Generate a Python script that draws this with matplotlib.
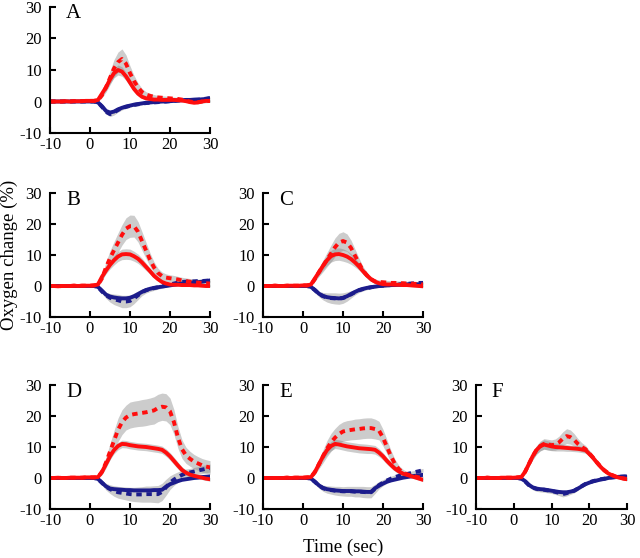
import numpy as np
import matplotlib.pyplot as plt

plt.rcParams['font.family'] = ['Liberation Serif', 'DejaVu Serif']
plt.rcParams['axes.unicode_minus'] = False

# time axis, 1 s steps from -10 to 30 s
t = np.arange(-10, 31)

# ---- panel A ----
a_red = [0, 0, 0, 0, 0.1, 0, 0.1, 0.1, 0.1, 0.2,
         0.2, 0.2, 0.5, 2.5, 4.5, 7, 9, 10, 9.5, 8,
         6, 4, 2.5, 1.5, 1, 0.8, 0.6, 0.6, 0.5, 0.5,
         0.5, 0.5, 0.4, 0.3, 0.1, -0.2, -0.4, -0.3, 0, 0.2, 0.2]
a_red_dot = [0, 0, 0, 0, 0.1, 0, 0.1, 0.1, 0.1, 0.2,
             0.2, 0.2, 0.4, 2, 4.5, 7.5, 10.5, 12.5, 13.5, 12,
             9, 6.5, 4.5, 3, 2.2, 1.8, 1.5, 1.3, 1.2, 1.1,
             1, 0.9, 0.8, 0.6, 0.3, 0, -0.2, -0.2, 0, 0.1, 0.2]
a_blue = [0, 0, 0, 0, 0, 0, 0, 0, 0, 0,
          0, 0, -0.3, -1.5, -3, -3.5, -3.2, -2.5, -2, -1.6,
          -1.3, -1, -0.8, -0.6, -0.4, -0.3, -0.2, -0.1, 0, 0,
          0.1, 0.2, 0.3, 0.4, 0.5, 0.5, 0.6, 0.6, 0.7, 0.8, 1.0]
a_blue_dot = [0, 0, 0, 0, 0, 0, 0, 0, 0, 0,
              0, 0, -0.3, -1.7, -3.3, -4, -3.5, -2.7, -2.1, -1.7,
              -1.4, -1.1, -0.9, -0.7, -0.5, -0.4, -0.3, -0.2, -0.1, 0,
              0.1, 0.2, 0.3, 0.4, 0.4, 0.5, 0.5, 0.6, 0.7, 0.9, 1.1]
a_red_sd = [0.2, 0.2, 0.2, 0.2, 0.2, 0.2, 0.2, 0.2, 0.2, 0.2,
            0.2, 0.2, 0.3, 0.6, 1, 1.3, 1.5, 1.6, 1.5, 1.3,
            1.1, 0.9, 0.7, 0.5, 0.4, 0.3, 0.3, 0.3, 0.3, 0.3,
            0.3, 0.3, 0.3, 0.3, 0.3, 0.3, 0.3, 0.3, 0.3, 0.3, 0.3]
a_red_dot_sd = [0.2, 0.2, 0.2, 0.2, 0.2, 0.2, 0.2, 0.2, 0.2, 0.2,
                0.2, 0.2, 0.3, 0.8, 1.5, 2.2, 2.8, 3.2, 3.2, 2.8,
                2.3, 1.8, 1.4, 1.1, 0.9, 0.8, 0.7, 0.6, 0.6, 0.6,
                0.5, 0.5, 0.5, 0.5, 0.5, 0.5, 0.5, 0.5, 0.5, 0.5, 0.5]
a_blue_sd = [0.2, 0.2, 0.2, 0.2, 0.2, 0.2, 0.2, 0.2, 0.2, 0.2,
             0.2, 0.2, 0.2, 0.4, 0.6, 0.8, 0.8, 0.7, 0.6, 0.5,
             0.4, 0.3, 0.3, 0.3, 0.3, 0.3, 0.3, 0.3, 0.3, 0.3,
             0.3, 0.3, 0.3, 0.3, 0.3, 0.3, 0.3, 0.3, 0.3, 0.3, 0.3]

# ---- panel B ----
b_red = [0, 0, -0.1, 0, 0, 0, 0.1, 0, 0.1, 0.1,
         0.1, 0.2, 0.5, 3, 5, 6.8, 8.3, 9.5, 10.2, 10.3,
         10.2, 9.6, 8.8, 7.6, 6.2, 4.8, 3.3, 2.2, 1.3, 0.8,
         0.5, 0.4, 0.4, 0.3, 0.3, 0.3, 0.2, 0.2, 0.1, 0, 0]
b_red_dot = [0, 0, -0.1, 0, 0, 0, 0.1, 0, 0.1, 0.1,
             0.1, 0.2, 0.4, 2.5, 6, 9, 11.5, 14, 16.5, 18.5,
             19.3, 19.3, 17.5, 14.5, 11.5, 8.5, 6, 4.2, 3.2, 2.7,
             2.5, 2.3, 2.1, 1.8, 1.6, 1.4, 1.2, 1.1, 1.0, 0.9, 0.8]
b_blue = [0, 0, 0, 0, 0, 0, 0, 0, 0, 0,
          0, 0, -0.3, -1.5, -2.8, -3.4, -3.7, -3.9, -4, -4,
          -3.8, -3.3, -2.6, -1.9, -1.3, -0.9, -0.6, -0.4, -0.2, 0,
          0.2, 0.4, 0.6, 0.8, 0.9, 1.0, 1.1, 1.2, 1.4, 1.6, 1.8]
b_blue_dot = [0, 0, 0, 0, 0, 0, 0, 0, 0, 0,
              0, 0, -0.3, -1.8, -3, -3.8, -4.3, -4.6, -5, -5,
              -4.8, -4, -3, -2, -1.4, -1, -0.7, -0.4, -0.1, 0.2,
              0.5, 0.8, 1.1, 1.3, 1.4, 1.5, 1.5, 1.6, 1.6, 1.7, 1.8]
b_red_sd = [0.2, 0.2, 0.2, 0.2, 0.2, 0.2, 0.2, 0.2, 0.2, 0.2,
            0.2, 0.2, 0.3, 0.8, 1.1, 1.3, 1.5, 1.6, 1.7, 1.7,
            1.7, 1.6, 1.5, 1.4, 1.2, 1, 0.8, 0.6, 0.5, 0.5,
            0.4, 0.4, 0.4, 0.4, 0.4, 0.4, 0.4, 0.4, 0.4, 0.4, 0.4]
b_red_dot_sd = [0.2, 0.2, 0.2, 0.2, 0.2, 0.2, 0.2, 0.2, 0.2, 0.2,
                0.2, 0.2, 0.3, 1, 1.8, 2.4, 2.8, 3.1, 3.3, 3.5,
                3.6, 3.5, 3.3, 3, 2.6, 2.2, 1.8, 1.5, 1.3, 1.2,
                1.1, 1.1, 1, 1, 1, 1, 1, 1, 1, 1, 1]
b_blue_sd = [0.2, 0.2, 0.2, 0.2, 0.2, 0.2, 0.2, 0.2, 0.2, 0.2,
             0.2, 0.2, 0.3, 0.6, 1, 1.4, 1.7, 1.9, 2, 2,
             1.9, 1.7, 1.4, 1.1, 0.9, 0.8, 0.7, 0.6, 0.6, 0.6,
             0.6, 0.6, 0.6, 0.6, 0.6, 0.6, 0.6, 0.6, 0.6, 0.6, 0.6]

# ---- panel C ----
c_red = [0, 0, 0, 0.1, 0, 0, 0.1, 0.1, 0.1, 0.1,
         0.2, 0.2, 0.5, 2.5, 4.5, 6.5, 8.3, 9.6, 10.2, 10.3,
         10, 9.5, 8.7, 7.6, 6.3, 4.8, 3.4, 2.2, 1.4, 0.9,
         0.6, 0.5, 0.5, 0.4, 0.4, 0.3, 0.3, 0.2, 0.1, 0, -0.1]
c_red_dot = [0, 0, 0, 0.1, 0, 0, 0.1, 0.1, 0.1, 0.1,
             0.2, 0.2, 0.4, 2.3, 4.5, 6.5, 8.5, 10.5, 12.5, 14,
             14.5, 14, 12.3, 9.8, 7.3, 5, 3.4, 2.2, 1.5, 1.3,
             1.2, 1.1, 1.0, 1.0, 0.9, 0.9, 0.8, 0.8, 0.7, 0.6, 0.5]
c_blue = [0, 0, 0, 0, 0, 0, 0, 0, 0, 0,
          0, 0, -0.3, -1.3, -2.5, -3.2, -3.6, -3.8, -3.9, -4,
          -3.8, -3.3, -2.6, -1.9, -1.3, -0.9, -0.6, -0.4, -0.2, 0,
          0.1, 0.2, 0.3, 0.3, 0.4, 0.5, 0.5, 0.6, 0.6, 0.5, 0.5]
c_blue_dot = [0, 0, 0, 0, 0, 0, 0, 0, 0, 0,
              0, 0, -0.3, -1.4, -2.6, -3.3, -3.7, -3.9, -4, -4.1,
              -3.9, -3.4, -2.7, -2, -1.4, -1, -0.7, -0.4, -0.2, 0,
              0.1, 0.2, 0.3, 0.4, 0.5, 0.6, 0.7, 0.8, 0.9, 1.0, 1.0]
c_red_sd = [0.2, 0.2, 0.2, 0.2, 0.2, 0.2, 0.2, 0.2, 0.2, 0.2,
            0.2, 0.2, 0.3, 0.7, 1, 1.3, 1.6, 1.9, 2, 2,
            2, 1.9, 1.7, 1.5, 1.2, 1, 0.8, 0.6, 0.5, 0.5,
            0.4, 0.4, 0.4, 0.4, 0.4, 0.4, 0.4, 0.4, 0.4, 0.4, 0.4]
c_red_dot_sd = [0.2, 0.2, 0.2, 0.2, 0.2, 0.2, 0.2, 0.2, 0.2, 0.2,
                0.2, 0.2, 0.3, 0.8, 1.4, 1.9, 2.3, 2.7, 3, 3,
                3, 2.8, 2.5, 2.1, 1.7, 1.3, 1, 0.8, 0.7, 0.7,
                0.7, 0.7, 0.7, 0.7, 0.7, 0.7, 0.7, 0.7, 0.7, 0.7, 0.7]
c_blue_sd = [0.2, 0.2, 0.2, 0.2, 0.2, 0.2, 0.2, 0.2, 0.2, 0.2,
             0.2, 0.2, 0.3, 0.6, 0.9, 1.2, 1.5, 1.7, 1.8, 1.8,
             1.7, 1.5, 1.2, 0.9, 0.7, 0.6, 0.5, 0.5, 0.5, 0.5,
             0.5, 0.5, 0.5, 0.5, 0.5, 0.5, 0.5, 0.5, 0.5, 0.5, 0.5]

# ---- panel D ----
d_red = [0, 0, 0.1, 0, 0, 0.1, 0.1, 0.1, 0.1, 0.2,
         0.2, 0.2, 0.3, 2, 4.5, 7, 9, 10.3, 11, 10.9,
         10.6, 10.4, 10.2, 10.1, 10, 9.8, 9.6, 9.4, 9.1, 8.2,
         7, 5.5, 4, 2.6, 1.7, 1.1, 0.7, 0.4, 0.1, -0.2, -0.4]
d_red_dot = [0, 0, 0.1, 0, 0, 0.1, 0.1, 0.1, 0.1, 0.2,
             0.2, 0.2, 0.3, 2, 5, 8.5, 12, 15.5, 18, 19.5,
             20.3, 20.6, 20.8, 21, 21.2, 21.5, 21.8, 22.6, 23, 22.8,
             21.5, 18, 13, 9.3, 7.3, 6.2, 5.3, 4.7, 4.1, 3.7, 3.4]
d_blue = [0, 0, 0, 0, 0, 0, 0, 0, 0, 0,
          0, 0, -0.3, -1.5, -2.7, -3.4, -3.6, -3.7, -3.8, -3.9,
          -3.9, -4, -4, -4, -4, -4, -3.9, -3.9, -3.8, -2.8,
          -2, -1.5, -1, -0.6, -0.4, -0.2, 0, 0.1, 0.3, 0.4, 0.5]
d_blue_dot = [0, 0, 0, 0, 0, 0, 0, 0, 0, 0,
              0, 0, -0.3, -1.6, -2.8, -3.6, -4.2, -4.6, -4.8, -5,
              -5.2, -5.3, -5.3, -5.3, -5.2, -5.2, -5.2, -5.2, -4.5, -3,
              -1.5, -0.5, 0.3, 1, 1.5, 1.8, 2.1, 2.4, 2.7, 3, 3.2]
d_red_sd = [0.2, 0.2, 0.2, 0.2, 0.2, 0.2, 0.2, 0.2, 0.2, 0.2,
            0.2, 0.2, 0.3, 0.6, 0.9, 1.1, 1.2, 1.2, 1.2, 1.2,
            1.2, 1.2, 1.2, 1.2, 1.2, 1.2, 1.2, 1.2, 1.2, 1.2,
            1.2, 1.2, 1.1, 1, 0.9, 0.8, 0.7, 0.6, 0.6, 0.6, 0.6]
d_red_dot_sd = [0.2, 0.2, 0.2, 0.2, 0.2, 0.2, 0.2, 0.2, 0.2, 0.2,
                0.2, 0.2, 0.3, 1, 1.8, 2.6, 3.3, 3.8, 4, 4,
                4.2, 4.2, 4.2, 4.3, 4.3, 4.3, 4.4, 4.4, 4.4, 4.4,
                4.3, 4, 3.5, 3, 2.6, 2.4, 2.3, 2.2, 2.2, 2.2, 2.2]
d_blue_sd = [0.2, 0.2, 0.2, 0.2, 0.2, 0.2, 0.2, 0.2, 0.2, 0.2,
             0.2, 0.2, 0.3, 0.7, 1.1, 1.4, 1.7, 1.9, 2, 2.1,
             2.2, 2.3, 2.4, 2.5, 2.6, 2.6, 2.7, 2.8, 2.8, 2.6,
             2.2, 1.9, 1.7, 1.5, 1.4, 1.3, 1.3, 1.3, 1.3, 1.3, 1.3]

# ---- panel E ----
e_red = [0, 0, 0, 0, 0, 0, 0.1, 0, 0.1, 0.1,
         0.1, 0.2, 0.3, 2, 4.5, 7, 9, 10.3, 11, 10.8,
         10.5, 10.2, 10, 9.8, 9.6, 9.5, 9.4, 9.3, 9.1, 8.2,
         7, 5.5, 4.2, 3, 2.1, 1.4, 1, 0.6, 0.2, -0.2, -0.6]
e_red_dot = [0, 0, 0, 0, 0, 0, 0.1, 0, 0.1, 0.1,
             0.1, 0.2, 0.3, 2, 4.5, 7, 9.5, 11.5, 13, 14.2,
             15, 15.3, 15.5, 15.7, 15.8, 16, 16.1, 16.1, 15.8, 15.3,
             13, 10, 7, 4.5, 2.8, 1.8, 1.2, 0.8, 0.5, 0.2, 0]
e_blue = [0, 0, 0, 0, 0, 0, 0, 0, 0, 0,
          0, 0, -0.2, -1.2, -2.4, -3.2, -3.6, -3.8, -4, -4.1,
          -4.2, -4.2, -4.2, -4.3, -4.3, -4.4, -4.5, -4.5, -3.3, -2.5,
          -1.8, -1.2, -0.8, -0.5, -0.2, 0.1, 0.3, 0.5, 0.7, 0.9, 1.0]
e_blue_dot = [0, 0, 0, 0, 0, 0, 0, 0, 0, 0,
              0, 0, -0.2, -1.3, -2.5, -3.3, -3.7, -3.9, -4.1, -4.2,
              -4.3, -4.3, -4.3, -4.4, -4.4, -4.5, -4.6, -4.6, -3.5, -2.3,
              -1.5, -0.8, -0.2, 0.3, 0.7, 1, 1.3, 1.6, 1.9, 2.2, 2.5]
e_red_sd = [0.2, 0.2, 0.2, 0.2, 0.2, 0.2, 0.2, 0.2, 0.2, 0.2,
            0.2, 0.2, 0.3, 0.6, 0.9, 1.2, 1.4, 1.5, 1.5, 1.5,
            1.5, 1.5, 1.5, 1.5, 1.5, 1.5, 1.5, 1.4, 1.4, 1.3,
            1.2, 1.1, 1, 0.9, 0.8, 0.7, 0.6, 0.5, 0.5, 0.5, 0.5]
e_red_dot_sd = [0.2, 0.2, 0.2, 0.2, 0.2, 0.2, 0.2, 0.2, 0.2, 0.2,
                0.2, 0.2, 0.3, 0.9, 1.5, 2.1, 2.6, 2.9, 3, 3.1,
                3.1, 3.2, 3.2, 3.3, 3.3, 3.3, 3.3, 3.3, 3.2, 3,
                2.7, 2.3, 1.9, 1.5, 1.2, 1, 0.8, 0.7, 0.6, 0.6, 0.6]
e_blue_sd = [0.2, 0.2, 0.2, 0.2, 0.2, 0.2, 0.2, 0.2, 0.2, 0.2,
             0.2, 0.2, 0.2, 0.5, 0.8, 1, 1.2, 1.3, 1.4, 1.5,
             1.5, 1.6, 1.6, 1.7, 1.7, 1.8, 1.8, 1.8, 1.5, 1.2,
             1, 0.9, 0.8, 0.7, 0.7, 0.6, 0.6, 0.6, 0.6, 0.6, 0.6]

# ---- panel F ----
f_red = [0, 0, 0, 0.1, 0, 0, 0, 0.1, 0.1, 0.1,
         0.1, 0.2, 0.3, 2, 4.5, 7, 9, 10.2, 10.8, 10.5,
         10.2, 10, 9.9, 9.8, 9.7, 9.6, 9.5, 9.4, 9.2, 9,
         7.8, 6.5, 5, 3.6, 2.4, 1.5, 0.9, 0.4, 0.1, -0.2, -0.4]
f_red_dot = [0, 0, 0, 0.1, 0, 0, 0, 0.1, 0.1, 0.1,
             0.1, 0.2, 0.3, 2, 4.5, 7, 9, 10.3, 11, 10.8,
             10.6, 10.8, 11.5, 12.7, 13.5, 13.2, 12.3, 11, 10, 9.3,
             8, 6.6, 5.1, 3.7, 2.5, 1.6, 1, 0.5, 0.1, -0.1, -0.3]
f_blue = [0, 0, 0, 0, 0, 0, 0, 0, 0, 0,
          0, 0, -0.2, -1, -2.2, -3, -3.4, -3.6, -3.7, -3.9,
          -4.1, -4.3, -4.5, -4.6, -4.6, -4.4, -4.1, -3.4, -2.7, -2,
          -1.5, -1.1, -0.8, -0.5, -0.3, 0, 0.2, 0.3, 0.4, 0.4, 0.5]
f_blue_dot = [0, 0, 0, 0, 0, 0, 0, 0, 0, 0,
              0, 0, -0.2, -1.1, -2.3, -3.1, -3.5, -3.7, -3.8, -4,
              -4.2, -4.5, -4.8, -5.2, -4.9, -4.5, -4.1, -3.4, -2.6, -1.9,
              -1.4, -1, -0.7, -0.4, -0.2, 0.1, 0.2, 0.3, 0.4, 0.5, 0.5]
f_red_sd = [0.2, 0.2, 0.2, 0.2, 0.2, 0.2, 0.2, 0.2, 0.2, 0.2,
            0.2, 0.2, 0.3, 0.6, 0.9, 1.1, 1.3, 1.4, 1.5, 1.5,
            1.4, 1.3, 1.2, 1.1, 1.1, 1, 1, 1, 1, 1,
            0.9, 0.8, 0.7, 0.6, 0.5, 0.4, 0.4, 0.4, 0.4, 0.4, 0.4]
f_red_dot_sd = [0.2, 0.2, 0.2, 0.2, 0.2, 0.2, 0.2, 0.2, 0.2, 0.2,
                0.2, 0.2, 0.3, 0.6, 0.9, 1.2, 1.4, 1.6, 1.7, 1.7,
                1.7, 1.8, 2, 2.2, 2.4, 2.3, 2, 1.7, 1.4, 1.2,
                1, 0.9, 0.8, 0.7, 0.6, 0.5, 0.5, 0.5, 0.5, 0.5, 0.5]
f_blue_sd = [0.2, 0.2, 0.2, 0.2, 0.2, 0.2, 0.2, 0.2, 0.2, 0.2,
             0.2, 0.2, 0.2, 0.4, 0.6, 0.7, 0.8, 0.8, 0.8, 0.8,
             0.8, 0.8, 0.9, 0.9, 0.9, 0.8, 0.7, 0.6, 0.5, 0.5,
             0.5, 0.5, 0.5, 0.5, 0.5, 0.5, 0.5, 0.5, 0.5, 0.5, 0.5]

panels = [
    ('A', a_red, a_red_dot, a_blue, a_blue_dot, a_red_sd, a_red_dot_sd, a_blue_sd),
    ('B', b_red, b_red_dot, b_blue, b_blue_dot, b_red_sd, b_red_dot_sd, b_blue_sd),
    ('C', c_red, c_red_dot, c_blue, c_blue_dot, c_red_sd, c_red_dot_sd, c_blue_sd),
    ('D', d_red, d_red_dot, d_blue, d_blue_dot, d_red_sd, d_red_dot_sd, d_blue_sd),
    ('E', e_red, e_red_dot, e_blue, e_blue_dot, e_red_sd, e_red_dot_sd, e_blue_sd),
    ('F', f_red, f_red_dot, f_blue, f_blue_dot, f_red_sd, f_red_dot_sd, f_blue_sd),
]

W, H = 640, 558
# axes boxes in pixels: left, top, right, bottom
boxes = {
    'A': (50, 7, 210, 133),
    'B': (50, 193, 210, 317),
    'C': (263, 193, 423, 317),
    'D': (50, 385, 210, 509),
    'E': (263, 385, 423, 509),
    'F': (476, 385, 627, 509),
}

RED = '#ff0d0d'
BLUE = '#1c1c8c'
BAND = '#808080'

fig = plt.figure(figsize=(W / 100, H / 100), dpi=100)

for name, red, red_dot, blue, blue_dot, red_sd, red_dot_sd, blue_sd in panels:
    l, tp, r, b = boxes[name]
    ax = fig.add_axes([l / W, 1 - b / H, (r - l) / W, (b - tp) / H])
    red, red_dot = np.array(red), np.array(red_dot)
    blue, blue_dot = np.array(blue), np.array(blue_dot)
    red_sd, red_dot_sd, blue_sd = np.array(red_sd), np.array(red_dot_sd), np.array(blue_sd)

    ax.fill_between(t, red_dot - red_dot_sd, red_dot + red_dot_sd, color=BAND, alpha=0.4, lw=0)
    ax.fill_between(t, red - red_sd, red + red_sd, color=BAND, alpha=0.4, lw=0)
    ax.fill_between(t, blue_dot - blue_sd, blue_dot + blue_sd, color=BAND, alpha=0.4, lw=0)

    ax.plot(t, blue, color=BLUE, lw=2.8, solid_capstyle='round')
    ax.plot(t, blue_dot, color=BLUE, lw=2.8, ls=(0, (1.4, 1.2)))
    ax.plot(t, red_dot, color=RED, lw=2.8, ls=(0, (1.4, 1.2)))
    ax.plot(t, red, color=RED, lw=2.8, solid_capstyle='round')

    ax.set_xlim(-10, 30)
    ax.set_ylim(-10, 30)
    ax.set_xticks([-10, 0, 10, 20, 30])
    ax.set_yticks([-10, 0, 10, 20, 30])
    for s in ['top', 'right']:
        ax.spines[s].set_visible(False)
    for s in ['left', 'bottom']:
        ax.spines[s].set_linewidth(1.5)
    ax.tick_params(direction='in', length=4, width=1.5, labelsize=12, pad=3)
    ax.tick_params(axis='y', pad=6)
    ax.text(0.1, 1.02, name, transform=ax.transAxes, va='top', ha='left', fontsize=15)

fig.text(9 / W, 1 - 255 / H, 'Oxygen change (%)', rotation=90, ha='center', va='center', fontsize=13.5)
fig.text(343 / W, 1 - 547 / H, 'Time (sec)', ha='center', va='center', fontsize=13.5)

fig.savefig('out.png', dpi=100)
